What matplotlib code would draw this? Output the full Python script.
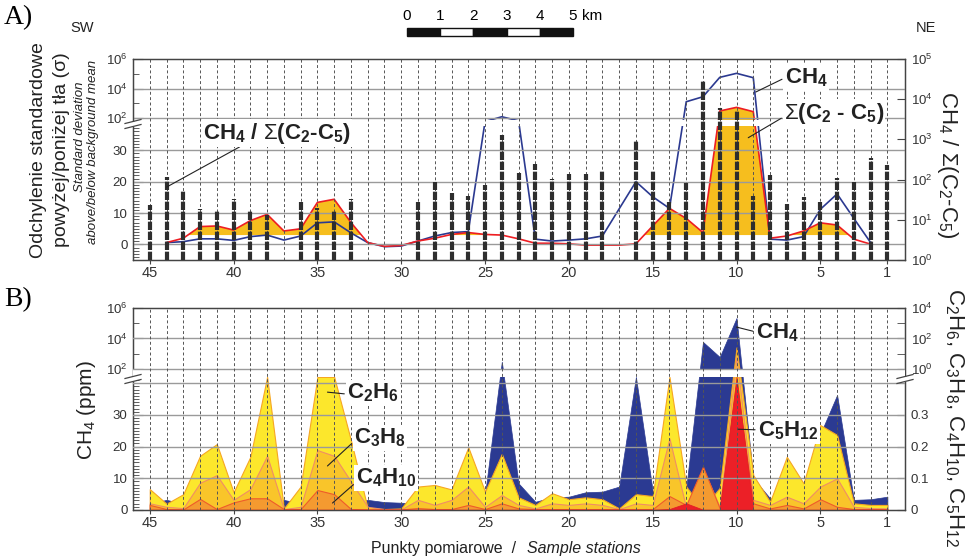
import numpy as np
import matplotlib
matplotlib.use("Agg")
import matplotlib.pyplot as plt
from matplotlib.ticker import FixedLocator, FixedFormatter, NullFormatter
from matplotlib.patches import Rectangle
from matplotlib.lines import Line2D

plt.rcParams["font.family"] = ["Liberation Sans", "DejaVu Sans"]
plt.rcParams["mathtext.fontset"] = "custom"
plt.rcParams["mathtext.rm"] = "Liberation Sans"
plt.rcParams["mathtext.it"] = "Liberation Sans:italic"
plt.rcParams["mathtext.bf"] = "Liberation Sans:bold"

nan = np.nan
stations = np.arange(45, 0, -1)
xtick_stations = [45, 40, 35, 30, 25, 20, 15, 10, 5, 1]

# ---- panel A (stations 45 .. 1) ----
# CH4 / sum(C2-C5) ratio, right log axis
ratio = np.array([23, 116, 52, 19, 17.5, 33, 17.5, 13, nan, 28,
                  20, 17.5, 33, nan, nan, nan, 28, 87, 46, 39,
                  73, 1290, 146, 245, 104, 138, 138, 173, nan, 970,
                  173, 28, 84, 30000, 6000, 5500, 39, 130, 25, 37,
                  28, 110, 87, 344, 231])
# standard deviation above/below background, CH4
sigma_ch4 = np.array([nan, 0.6, 0.9, 1.8, 1.8, 1.3, 2.5, 3.0, 1.4, 2.7,
                      6.9, 7.2, 3.7, 0.6, -0.7, -0.5, 1.1, 2.7, 3.8, 4.1,
                      75, 122, 80, 1.7, 1.1, 1.4, 1.8, 2.7, nan, 20.0,
                      15.2, 11.5, 1270, 2780, 57000, 107000, 54000, 1.7, 1.4, 2.5,
                      11.2, 16.1, 8.3, 0.6, nan])
# standard deviation, sum(C2-C5)
sigma_c2c5 = np.array([nan, 0.6, 2.0, 5.7, 5.9, 4.6, 7.6, 9.6, 4.3, 5.0,
                       13.4, 14.4, 7.0, 0.6, -0.6, -0.3, 1.1, 2.0, 3.2, 3.8,
                       3.2, 3.0, 1.8, 0.4, 0.4, 0.2, -0.2, -0.2, -0.2, 0.2,
                       5.9, 11.5, 8.3, 3.8, 300, 530, 270, 2.0, 2.7, 4.3,
                       6.9, 6.2, 1.7, 0.1, nan])
fill_level = 3.0

# ---- panel B (stations 45 .. 1) ----
ch4_ppm = np.array([2, 3.2, 2, 2, 2, 2, 2, 2, 3.2, 2,
                    2, 2, 2.5, 3.2, 2.5, 2.3, 2, 2, 2, 2,
                    5, 300, 8.4, 2.6, 4, 4.2, 5.6, 5.8, 7.4, 42,
                    6, 4, 7, 5900, 610, 220000, 10, 3.7, 3, 3,
                    24, 36.3, 3.2, 3.4, 4.2])
c2h6 = np.array([0.066, 0.020, 0.050, 0.171, 0.208, 0.056, 0.168, 0.42, 0.005, 0.074,
                 0.42, 0.42, 0.22, 0.005, 0.003, 0.005, 0.074, 0.079, 0.065, 0.198,
                 0.058, 0.177, 0.040, 0.016, 0.053, 0.034, 0.040, 0.034, 0.005, 0.050,
                 0.044, 0.42, 0.074, 0.005, 0.07, 26, 0.11, 0.026, 0.168, 0.084,
                 0.268, 0.237, 0.021, 0.016, 0.016])
c3h8 = np.array([0.021, 0.010, 0.006, 0.086, 0.110, 0.032, 0.066, 0.171, 0.003, 0.010,
                 0.189, 0.171, 0.09, 0.010, 0.003, 0.002, 0.032, 0.016, 0.032, 0.074,
                 0.010, 0.047, 0.016, 0.005, 0.021, 0.016, 0.021, 0.016, 0.003, 0.021,
                 0.016, 0.226, 0.006, 0.13, 0.010, 6.4, 0.032, 0.016, 0.042, 0.021,
                 0.074, 0.100, 0.010, 0.006, 0.005])
c4h10 = np.array([0.016, 0.003, 0.002, 0.035, 0.003, 0.024, 0.037, 0.037, 0.003, 0.003,
                  0.063, 0.050, 0.003, 0.002, 0.002, 0.002, 0.006, 0.003, 0.003, 0.016,
                  0.003, 0.021, 0.005, 0.003, 0.003, 0.003, 0.003, 0.003, 0.003, 0.003,
                  0.003, 0.044, 0.016, 0.137, 0.005, 0.40, 0.021, 0.005, 0.016, 0.005,
                  0.034, 0.010, 0.003, 0.003, 0.003])
c5h12 = np.array([0.001] * 31 + [0.003, 0.021, 0.001, 0.001, 0.42, 0.001] + [0.001] * 8)

W, H = 970, 559


def fpx(x, y):
    return x / W, 1 - y / H


def broken_scale(lin_top, gap, per_dec, factor=1.0):
    # linear up to lin_top, a short gap, then log10 from 100 upward
    def fwd(v):
        v = np.asarray(v, float) * factor
        mid = lin_top + (v - lin_top) / (100 - lin_top) * gap
        up = lin_top + gap + per_dec * np.log10(np.clip(v, 100, None) / 100)
        return np.where(v <= lin_top, v, np.where(v < 100, mid, up))

    def inv(u):
        u = np.asarray(u, float)
        mid = lin_top + (u - lin_top) / gap * (100 - lin_top)
        up = 100 * 10 ** (np.clip(u - lin_top - gap, -50, 50) / per_dec)
        return np.where(u <= lin_top, u, np.where(u < lin_top + gap, mid, up)) / factor
    return fwd, inv


def style_axes(ax):
    for s in ax.spines.values():
        s.set_color("#444444")
        s.set_linewidth(0.9)


def break_mark(cx, cy):
    x0, y0 = fpx(cx - 3, cy - 2.5)
    x1, y1 = fpx(cx + 3, cy + 2.5)
    fig.add_artist(Rectangle((x0, y1), x1 - x0, y0 - y1, transform=fig.transFigure,
                             fc="white", ec="none", zorder=5))
    for dy in (-2.5, 2.5):
        a = fpx(cx - 8, cy + dy + 2)
        b = fpx(cx + 8, cy + dy - 2)
        fig.add_artist(Line2D([a[0], b[0]], [a[1], b[1]], transform=fig.transFigure,
                              color="#444444", lw=0.9, zorder=6))


fig = plt.figure(figsize=(9.7, 5.59), dpi=100)

x0f = 133 / W
wf = (905 - 133) / W
axA = fig.add_axes([x0f, 1 - 260 / H, wf, (260 - 59) / H])
axB = fig.add_axes([x0f, 1 - 510 / H, wf, (510 - 308) / H])

# ================= panel A =================
fA, iA = broken_scale(37.5, 2.77, 4.70)
axA.set_yscale("function", functions=(fA, iA))
axA.set_ylim(-4.94, 1e6)
axA.set_xlim(46.0, -0.05)

axA.fill_between(stations, sigma_c2c5, fill_level, where=sigma_c2c5 >= fill_level,
                 interpolate=True, color="#F6BE1E", lw=0, zorder=1)
m = ~np.isnan(sigma_ch4)
axA.plot(stations[m], sigma_ch4[m], color="#2B3990", lw=1.2, zorder=2)
m = ~np.isnan(sigma_c2c5)
axA.plot(stations[m], sigma_c2c5[m], color="#EE1D23", lw=1.2, zorder=2.1)
axA.add_patch(Rectangle((0, (260 - 126.5) / 201), 1, 6.0 / 201, transform=axA.transAxes,
                        fc="white", ec="none", zorder=2.5))
for v in [0, 10, 20, 30, 100, 1e4]:
    axA.axhline(v, color="#9a9a9a", lw=1.0, zorder=2.6)
for s in stations:
    axA.axvline(s, color="#555555", lw=0.7, ls=(0, (3, 2.5)), zorder=2.6)

axA.yaxis.set_major_locator(FixedLocator([0, 10, 20, 30, 100, 1e4, 1e6]))
axA.yaxis.set_major_formatter(FixedFormatter(["0", "10", "20", "30", "$10^2$", "$10^4$", "$10^6$"]))
axA.yaxis.set_minor_locator(FixedLocator([v for v in range(-4, 38) if v % 10] + [1e3, 1e5]))
axA.yaxis.set_minor_formatter(NullFormatter())
axA.tick_params(axis="y", which="both", direction="in", colors="#444444", labelcolor="#333333",
                labelsize=9.5, pad=4)
axA.tick_params(axis="y", which="major", length=7)
axA.tick_params(axis="y", which="minor", length=4)
axA.set_xticks(xtick_stations)
axA.set_xticklabels([str(s) for s in xtick_stations])
axA.tick_params(axis="x", direction="out", length=3, labelsize=10.5, pad=1, colors="#444444",
                labelcolor="#333333")
style_axes(axA)

axA2 = axA.twinx()
axA2.set_yscale("log")
axA2.set_ylim(1, 1e5)
mb = ~np.isnan(ratio)
axA2.vlines(stations[mb], 1, ratio[mb], colors="#2e2e2e", lw=3.0,
            linestyles=[(0, (2.0, 0.4))], zorder=3)
axA2.yaxis.set_major_locator(FixedLocator([1, 10, 100, 1e3, 1e4, 1e5]))
axA2.yaxis.set_major_formatter(FixedFormatter(["$10^0$", "$10^1$", "$10^2$", "$10^3$", "$10^4$", "$10^5$"]))
axA2.yaxis.set_minor_locator(FixedLocator([]))
axA2.tick_params(axis="y", direction="in", length=6, labelsize=9.5, colors="#444444",
                 labelcolor="#333333", pad=4)
style_axes(axA2)

axA2.annotate(r"CH$_\mathbf{4}$ / $\Sigma$(C$_\mathbf{2}$-C$_\mathbf{5}$)", xy=(44, 65),
              xytext=fpx(277, 133), textcoords="figure fraction", ha="center", va="center",
              fontsize=16, fontweight="bold", color="#222222",
              bbox=dict(fc="white", ec="none", pad=1),
              arrowprops=dict(arrowstyle="-", color="#222222", lw=0.8, relpos=(0.28, 0.05),
                              shrinkA=0, shrinkB=0))
axA.annotate(r"CH$_\mathbf{4}$", xy=(8.85, 5800), xytext=fpx(806, 78), textcoords="figure fraction",
             ha="center", va="center", fontsize=16, fontweight="bold", color="#222222",
             bbox=dict(fc="white", ec="none", pad=1), zorder=6,
             arrowprops=dict(arrowstyle="-", color="#222222", lw=0.8, relpos=(0, 0.5),
                             shrinkA=1, shrinkB=0))
axA.annotate(r"$\Sigma$(C$_\mathbf{2}$ - C$_\mathbf{5}$)", xy=(9.3, 34), xytext=fpx(834, 113),
             textcoords="figure fraction", ha="center", va="center", fontsize=16,
             fontweight="bold", color="#222222", bbox=dict(fc="white", ec="none", pad=1), zorder=6,
             arrowprops=dict(arrowstyle="-", color="#222222", lw=0.8, relpos=(0, 0.35),
                             shrinkA=1, shrinkB=0))

# ================= panel B =================
fBL, iBL = broken_scale(42, 2.52, 4.81)
fBR, iBR = broken_scale(42, 2.52, 4.81, factor=100)
axB.set_yscale("function", functions=(fBL, iBL))
axB.set_ylim(0, 1e6)
axB.set_xlim(46.0, -0.05)
axB.fill_between(stations, 0, ch4_ppm, color="#2B3A92", ec="#2B3A92", lw=0.5, zorder=1)

axB.yaxis.set_major_locator(FixedLocator([0, 10, 20, 30, 100, 1e4, 1e6]))
axB.yaxis.set_major_formatter(FixedFormatter(["0", "10", "20", "30", "$10^2$", "$10^4$", "$10^6$"]))
axB.yaxis.set_minor_locator(FixedLocator([v for v in range(1, 42) if v % 10] + [1e3, 1e5]))
axB.yaxis.set_minor_formatter(NullFormatter())
axB.tick_params(axis="y", which="both", direction="in", colors="#444444", labelcolor="#333333",
                labelsize=9.5, pad=4)
axB.tick_params(axis="y", which="major", length=7)
axB.tick_params(axis="y", which="minor", length=4)
axB.set_xticks(xtick_stations)
axB.set_xticklabels([str(s) for s in xtick_stations])
axB.tick_params(axis="x", direction="out", length=3, labelsize=10.5, pad=1, colors="#444444",
                labelcolor="#333333")
style_axes(axB)

axB2 = axB.twinx()
axB2.set_yscale("function", functions=(fBR, iBR))
axB2.set_ylim(0, 1e4)
axB2.fill_between(stations, 0, c2h6, color="#FCE72C", ec="#F6A623", lw=0.8, zorder=1.1)
axB2.fill_between(stations, 0, c3h8, color="#F9C52A", ec="#F08D66", lw=0.8, zorder=1.2)
axB2.fill_between(stations, 0, c4h10, color="#F49A30", ec="#EF5B2A", lw=0.8, zorder=1.3)
axB2.fill_between(stations, 0, c5h12, color="#EC2027", ec="#E31E25", lw=0.6, zorder=1.4)
axB2.add_patch(Rectangle((0, (510 - 376.5) / 202), 1, 7.0 / 202, transform=axB2.transAxes,
                         fc="white", ec="none", zorder=2.8))
for v in [0.1, 0.2, 0.3, 0.4, 1, 100]:
    axB2.axhline(v, color="#9a9a9a", lw=1.0, zorder=3)
for s in stations:
    axB2.axvline(s, color="#555555", lw=0.7, ls=(0, (3, 2.5)), zorder=3)
axB2.yaxis.set_major_locator(FixedLocator([0, 0.1, 0.2, 0.3, 1, 100, 1e4]))
axB2.yaxis.set_major_formatter(FixedFormatter(["0", "0.1", "0.2", "0.3", "$10^0$", "$10^2$", "$10^4$"]))
axB2.yaxis.set_minor_locator(FixedLocator([10, 1000]))
axB2.yaxis.set_minor_formatter(NullFormatter())
axB2.tick_params(axis="y", which="both", direction="in", colors="#444444", labelcolor="#333333",
                 labelsize=9.5, pad=4)
axB2.tick_params(axis="y", which="major", length=6)
axB2.tick_params(axis="y", which="minor", length=6)
style_axes(axB2)

lab = dict(textcoords="figure fraction", ha="center", va="center", fontsize=16,
           fontweight="bold", color="#222222", bbox=dict(fc="white", ec="none", pad=1), zorder=6)
arr = dict(arrowstyle="-", color="#222222", lw=0.8, shrinkA=1, shrinkB=0)
axB2.annotate(r"C$_\mathbf{2}$H$_\mathbf{6}$", xy=(34.4, 0.372), xytext=fpx(373, 393),
              arrowprops=dict(arr, relpos=(0, 0.45)), **lab)
axB2.annotate(r"C$_\mathbf{3}$H$_\mathbf{8}$", xy=(34.4, 0.139), xytext=fpx(380, 438),
              arrowprops=dict(arr, relpos=(0, 0.35)), **lab)
axB2.annotate(r"C$_\mathbf{4}$H$_\mathbf{10}$", xy=(34.1, 0.022), xytext=fpx(386, 478),
              arrowprops=dict(arr, relpos=(0, 0.3)), **lab)
axB2.annotate(r"CH$_\mathbf{4}$", xy=(10.0, 560), xytext=fpx(777, 333),
              arrowprops=dict(arr, relpos=(0, 0.55)), **lab)
axB2.annotate(r"C$_\mathbf{5}$H$_\mathbf{12}$", xy=(9.9, 0.255), xytext=fpx(788, 431),
              arrowprops=dict(arr, relpos=(0, 0.55)), **lab)

break_mark(133, 124)
break_mark(133, 379)
break_mark(905, 379)

# ================= texts =================
fig.text(*fpx(4, 18), "A)", fontsize=20, family=["Liberation Serif"], va="center", ha="left")
fig.text(*fpx(4, 300), "B)", fontsize=20, family=["Liberation Serif"], va="center", ha="left")
fig.text(*fpx(82, 28), "SW", fontsize=10.5, ha="center", va="center", color="#222222")
fig.text(*fpx(926, 28), "NE", fontsize=10.5, ha="center", va="center", color="#222222")

# scale bar 0-5 km
for i in range(5):
    bx, by = fpx(407 + i * 33.2, 36)
    fig.add_artist(Rectangle((bx, by), 33.2 / W, 8 / H, transform=fig.transFigure,
                             fc="#111111" if i % 2 == 0 else "white", ec="#111111", lw=1.0))
for i in range(6):
    fig.text(*fpx(407 + i * 33.2, 16), str(i), fontsize=11, ha="center", va="center")
fig.text(*fpx(582, 16), "km", fontsize=11, ha="left", va="center")

fig.text(*fpx(39, 150), "Odchylenie standardowe", rotation=90, fontsize=14, ha="center", va="center",
         color="#222222")
fig.text(*fpx(62, 150), "powyżej/poniżej tła (σ)", rotation=90, fontsize=14, ha="center",
         va="center", color="#222222")
fig.text(*fpx(80, 137), "Standard deviation", rotation=90, fontsize=9.5, style="italic",
         ha="center", va="center", color="#222222")
fig.text(*fpx(93, 152), "above/below background mean", rotation=90, fontsize=9.5, style="italic",
         ha="center", va="center", color="#222222")
fig.text(*fpx(948, 165), r"CH$_4$ / $\Sigma$(C$_2$-C$_5$)", rotation=270, fontsize=16,
         ha="center", va="center", color="#222222")

fig.text(*fpx(86, 410), r"CH$_4$ (ppm)", rotation=90, fontsize=15, ha="center", va="center",
         color="#222222")
fig.text(*fpx(954, 418), r"C$_2$H$_6$, C$_3$H$_8$, C$_4$H$_{10}$, C$_5$H$_{12}$", rotation=270,
         fontsize=16, ha="center", va="center", color="#222222")

fig.text(*fpx(525, 548), "Punkty pomiarowe  /  ", fontsize=11.5, ha="right", va="center",
         color="#222222")
fig.text(*fpx(527, 548), "Sample stations", fontsize=11.5, style="italic", ha="left",
         va="center", color="#222222")

fig.savefig("out.png", dpi=100)
